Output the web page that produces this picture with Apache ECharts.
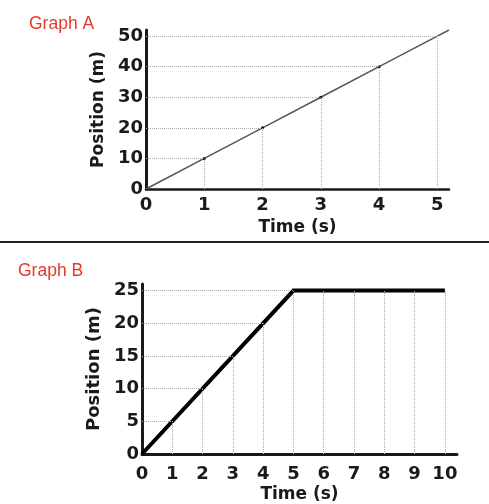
<!DOCTYPE html>
<html>
<head>
    <meta charset="utf-8">
    <title>Graph A / Graph B</title>
    <style type="text/css">
        html, body { margin: 0; padding: 0; background: #fff; }
        #main { width: 489px; height: 504px; }
    </style>
</head>
<body>
    <div id="main"></div>
</body>
<script src="https://cdn.jsdelivr.net/npm/echarts@6/dist/echarts.min.js"></script>
<script type="text/javascript">
    // Graph A: constant speed, 10 m/s
    var timeA = [0, 1, 2, 3, 4, 5, 5.2];
    var posA = [0, 10, 20, 30, 40, 50, 52];
    var xTicksA = [0, 1, 2, 3, 4, 5];
    var yTicksA = [0, 10, 20, 30, 40, 50];

    // Graph B: moves to 25 m in 5 s, then stands still
    var timeB = [0, 5, 10];
    var posB = [0, 25, 25];
    var xTicksB = [0, 1, 2, 3, 4, 5, 6, 7, 8, 9, 10];
    var yTicksB = [0, 5, 10, 15, 20, 25];

    var axisFont = 'DejaVu Sans';
    var inkColor = '#1a1a1a';

    // value of the drawn line at time t (for the dotted drop lines)
    function posAt(ts, ps, t) {
        for (var i = 1; i < ts.length; i++) {
            if (t <= ts[i]) {
                return ps[i - 1] + (ps[i] - ps[i - 1]) * (t - ts[i - 1]) / (ts[i] - ts[i - 1]);
            }
        }
        return ps[ps.length - 1];
    }
    // time at which the line first reaches position p
    function timeAt(ts, ps, p) {
        for (var i = 1; i < ts.length; i++) {
            if (p <= ps[i] && ps[i] !== ps[i - 1]) {
                return ts[i - 1] + (ts[i] - ts[i - 1]) * (p - ps[i - 1]) / (ps[i] - ps[i - 1]);
            }
        }
        return ts[ts.length - 1];
    }

    function dropLines(ts, ps, xTicks, yTicks) {
        var lines = [];
        for (var i = 0; i < xTicks.length; i++) {
            if (xTicks[i] === 0) continue;
            lines.push([{ coord: [xTicks[i], 0] }, { coord: [xTicks[i], posAt(ts, ps, xTicks[i])] }]);
        }
        for (var j = 0; j < yTicks.length; j++) {
            if (yTicks[j] === 0) continue;
            lines.push([{ coord: [0, yTicks[j]] }, { coord: [timeAt(ts, ps, yTicks[j]), yTicks[j]] }]);
        }
        return lines;
    }

    function pairs(xs, ys) {
        var out = [];
        for (var i = 0; i < xs.length; i++) out.push([xs[i], ys[i]]);
        return out;
    }

    function tickFormatter(ticks) {
        return function (v) {
            return ticks.indexOf(v) !== -1 ? String(v) : '';
        };
    }

    function makeX(idx, max, ticks, width, labelMargin, nameGap) {
        return {
            type: 'value', gridIndex: idx, min: 0, max: max, interval: 1,
            name: 'Time (s)', nameLocation: 'middle', nameGap: nameGap,
            nameTextStyle: { fontFamily: axisFont, fontWeight: 'bold', fontSize: 17, color: inkColor },
            axisLine: { show: true, onZero: false, lineStyle: { color: inkColor, width: width } },
            axisTick: { show: false },
            splitLine: { show: false },
            axisLabel: {
                margin: labelMargin, fontFamily: axisFont, fontWeight: 'bold', fontSize: 18, color: inkColor,
                formatter: tickFormatter(ticks)
            }
        };
    }

    function makeY(idx, max, interval, ticks, width, nameGap, nameSize) {
        return {
            type: 'value', gridIndex: idx, min: 0, max: max, interval: interval,
            name: 'Position (m)', nameLocation: 'middle', nameGap: nameGap,
            nameTextStyle: { fontFamily: axisFont, fontWeight: 'bold', fontSize: nameSize, color: inkColor },
            axisLine: { show: true, onZero: false, lineStyle: { color: inkColor, width: width } },
            axisTick: { show: false },
            splitLine: { show: false },
            axisLabel: {
                margin: 3, fontFamily: axisFont, fontWeight: 'bold', fontSize: 18, color: inkColor,
                formatter: tickFormatter(ticks)
            }
        };
    }

    var dotted = { color: '#acacac', type: 'dotted', width: 1 };

    var option = {
        backgroundColor: '#FFFFFF',
        animation: false,
        title: [
            { text: 'Graph A', left: 24, top: 10, textStyle: { fontFamily: 'Liberation Sans', fontWeight: 'normal', fontSize: 17.5, color: '#e5392a' } },
            { text: 'Graph B', left: 13, top: 257, textStyle: { fontFamily: 'Liberation Sans', fontWeight: 'normal', fontSize: 17.5, color: '#e5392a' } }
        ],
        graphic: [{
            type: 'line', silent: true,
            shape: { x1: 0, y1: 242, x2: 489, y2: 242 },
            style: { stroke: '#222', lineWidth: 2 }
        }],
        grid: [
            { left: 146, top: 30, width: 303, height: 159 },
            { left: 142, top: 284, width: 315, height: 170 }
        ],
        xAxis: [
            makeX(0, 5.2, xTicksA, 2.5, 7, 30),
            makeX(1, 10.4, xTicksB, 3, 11, 32)
        ],
        yAxis: [
            makeY(0, 52, 10, yTicksA, 3, 34, 17),
            makeY(1, 26, 5, yTicksB, 3, 33, 18)
        ],
        series: [
            {
                type: 'line', xAxisIndex: 0, yAxisIndex: 0, data: [], z: 1, silent: true,
                markLine: { silent: true, symbol: 'none', label: { show: false }, lineStyle: dotted, data: dropLines(timeA, posA, xTicksA, yTicksA) }
            },
            {
                type: 'line', xAxisIndex: 0, yAxisIndex: 0, z: 3,
                data: pairs(timeA, posA),
                symbol: function (v) { return (v[0] > 0 && v[0] < 5) ? 'circle' : 'none'; },
                symbolSize: 3,
                itemStyle: { color: '#111' },
                lineStyle: { color: '#555', width: 1.5 }
            },
            {
                type: 'line', xAxisIndex: 1, yAxisIndex: 1, data: [], z: 1, silent: true,
                markLine: { silent: true, symbol: 'none', label: { show: false }, lineStyle: dotted, data: dropLines(timeB, posB, xTicksB, yTicksB) }
            },
            {
                type: 'line', xAxisIndex: 1, yAxisIndex: 1, z: 3,
                data: pairs(timeB, posB),
                showSymbol: false,
                lineStyle: { color: '#000', width: 4, join: 'miter' }
            }
        ]
    };

    var myChart = echarts.init(document.getElementById('main'));
    myChart.setOption(option);
</script>
</html>
